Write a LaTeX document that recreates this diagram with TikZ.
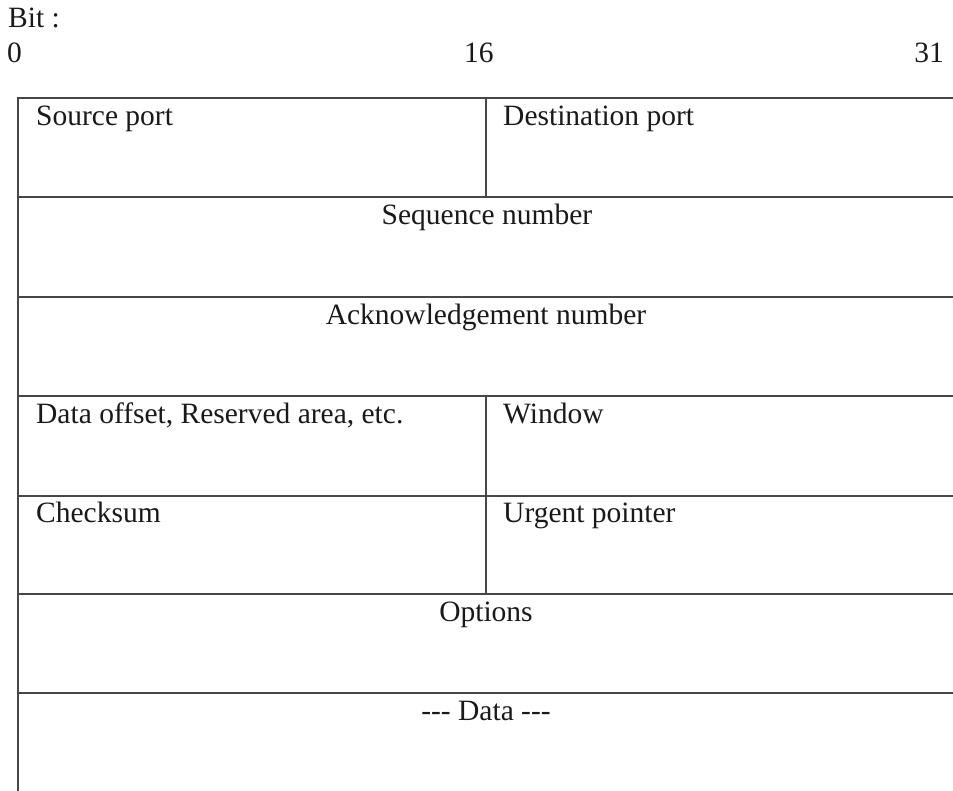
\documentclass[tikz,border=0pt]{standalone}
\usepackage{fontspec}
\setmainfont{Liberation Serif}
\begin{document}
\begin{tikzpicture}[x=1pt,y=-1pt,
  rule/.style={draw=black!72,line width=1.8pt},
  lbl/.style={inner sep=0pt,font=\fontsize{29.5}{35}\selectfont,text=black!90},
  lft/.style={lbl,anchor=base west},
  mid/.style={lbl,anchor=base}]
\useasboundingbox (0,0) rectangle (953,790);

% bit scale
\node[lft] (bit) at (8,27) {Bit :};
\node[lft] (b0) at (7,62) {0};
\node[lft] (b16) at (464,62) {16};
\node[lbl,anchor=base east] (b31) at (944,62) {31};

% header grid (open at right and bottom)
\draw[rule] (953,98) -- (18,98) -- (18,792);
\foreach \y in {197,297,396,496,594,693}
  \draw[rule] (18,\y) -- (953,\y);
\draw[rule] (486,98) -- (486,197);
\draw[rule] (486,396) -- (486,594);

% field names
\node[lft] (src) at (36,125) {Source port};
\node[lft] (dst) at (503,125) {Destination port};
\node[mid] (seq) at (487,224) {Sequence number};
\node[mid] (ack) at (486,324) {Acknowledgement number};
\node[lft] (off) at (36,423) {Data offset, Reserved area, etc.};
\node[lft] (win) at (503,423) {Window};
\node[lft] (chk) at (36,522) {Checksum};
\node[lft] (urg) at (503,522) {Urgent pointer};
\node[mid] (opt) at (486,621) {Options};
\node[mid] (dat) at (486,720) {-{}-{}- Data -{}-{}-};
\end{tikzpicture}
\end{document}
